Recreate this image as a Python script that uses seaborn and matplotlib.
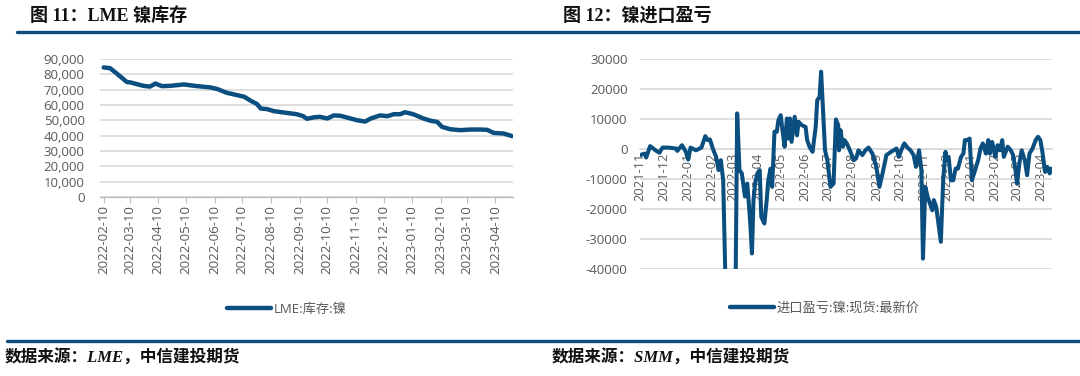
import matplotlib
matplotlib.use('Agg')
import matplotlib.pyplot as plt
import matplotlib.dates as mdates
from matplotlib.lines import Line2D
from matplotlib.ticker import FuncFormatter, MultipleLocator
import seaborn as sns
import pandas as pd

# ---------------- data ----------------
lme_dates = ['2022-02-10', '2022-02-17', '2022-02-24', '2022-03-07', '2022-03-11',
             '2022-03-25', '2022-04-01', '2022-04-07', '2022-04-14', '2022-04-23',
             '2022-05-08', '2022-05-22', '2022-06-05', '2022-06-13', '2022-06-23',
             '2022-07-04', '2022-07-12', '2022-07-19', '2022-07-26', '2022-07-30',
             '2022-08-06', '2022-08-13', '2022-08-24', '2022-09-07', '2022-09-14',
             '2022-09-18', '2022-09-25', '2022-10-02', '2022-10-10', '2022-10-17',
             '2022-10-24', '2022-10-31', '2022-11-11', '2022-11-20', '2022-11-26',
             '2022-12-06', '2022-12-14', '2022-12-21', '2022-12-28', '2023-01-02',
             '2023-01-11', '2023-01-22', '2023-01-30', '2023-02-06', '2023-02-11',
             '2023-02-20', '2023-03-03', '2023-03-14', '2023-03-25', '2023-04-01',
             '2023-04-08', '2023-04-19', '2023-04-28']
lme_stock = [84500, 84000, 80600, 75000, 74700,
             72500, 72000, 74000, 72300, 72500,
             73400, 72300, 71500, 70400, 68000,
             66500, 65400, 62800, 60600, 57700,
             57300, 56000, 55100, 54000, 52700,
             51000, 51900, 52300, 51200, 53200,
             53000, 51900, 50100, 49200, 51200,
             53200, 52700, 54000, 54000, 55300,
             54000, 51200, 49700, 49000, 45800,
             44200, 43600, 44000, 44000, 43800,
             41800, 41400, 39700]

imp_dates = ['2021-11-01', '2021-11-07', '2021-11-09', '2021-11-14', '2021-11-22',
             '2021-11-26', '2021-11-30', '2021-12-08', '2021-12-17', '2021-12-19',
             '2021-12-25', '2021-12-30', '2022-01-02', '2022-01-05', '2022-01-12',
             '2022-01-19', '2022-01-24', '2022-01-27', '2022-01-30', '2022-02-03',
             '2022-02-07', '2022-02-10', '2022-02-13', '2022-02-16', '2022-02-19',
             '2022-02-21', '2022-03-01', '2022-03-04', '2022-03-06', '2022-03-09',
             '2022-03-12', '2022-03-15', '2022-03-16', '2022-03-19', '2022-03-21',
             '2022-03-23', '2022-03-25', '2022-03-27', '2022-03-29', '2022-04-01',
             '2022-04-04', '2022-04-06', '2022-04-10', '2022-04-13', '2022-04-15',
             '2022-04-18', '2022-04-20', '2022-04-23', '2022-04-26', '2022-04-28',
             '2022-05-01', '2022-05-03', '2022-05-06', '2022-05-09', '2022-05-11',
             '2022-05-13', '2022-05-15', '2022-05-19', '2022-05-22', '2022-05-24',
             '2022-05-28', '2022-06-02', '2022-06-04', '2022-06-07', '2022-06-11',
             '2022-06-15', '2022-06-17', '2022-06-20', '2022-06-22', '2022-06-27',
             '2022-06-30', '2022-07-04', '2022-07-08', '2022-07-11', '2022-07-14',
             '2022-07-15', '2022-07-17', '2022-07-20', '2022-07-22', '2022-07-25',
             '2022-07-29', '2022-08-03', '2022-08-06', '2022-08-09', '2022-08-14',
             '2022-08-18', '2022-08-22', '2022-08-27', '2022-09-01', '2022-09-05',
             '2022-09-09', '2022-09-14', '2022-09-20', '2022-09-27', '2022-09-30',
             '2022-10-03', '2022-10-07', '2022-10-11', '2022-10-15', '2022-10-19',
             '2022-10-22', '2022-10-26', '2022-10-29', '2022-10-31', '2022-11-03',
             '2022-11-06', '2022-11-09', '2022-11-12', '2022-11-14', '2022-11-17',
             '2022-11-23', '2022-11-26', '2022-11-29', '2022-11-30', '2022-12-03',
             '2022-12-06', '2022-12-09', '2022-12-12', '2022-12-15', '2022-12-19',
             '2022-12-22', '2022-12-24', '2022-12-27', '2022-12-30', '2023-01-02',
             '2023-01-06', '2023-01-10', '2023-01-13', '2023-01-16', '2023-01-20',
             '2023-01-23', '2023-01-25', '2023-01-28', '2023-02-01', '2023-02-04',
             '2023-02-07', '2023-02-10', '2023-02-12', '2023-02-17', '2023-02-21',
             '2023-02-24', '2023-02-27', '2023-03-01', '2023-03-04', '2023-03-07',
             '2023-03-11', '2023-03-14', '2023-03-17', '2023-03-21', '2023-03-25',
             '2023-03-28', '2023-03-31', '2023-04-03', '2023-04-06', '2023-04-09',
             '2023-04-12', '2023-04-14']
imp_profit = [-2200, -1700, -3000, 800, -800,
              -1400, 300, 300, 0, -800,
              1100, -1100, -3700, 300, -600,
              300, 4100, 2800, 3000, -300,
              -2800, -7200, -3900, -10600, -45000,
              -55000, -55000, -45000, 11700, -7200,
              -8300, -13900, -16000, -11700, -18300,
              -25600, -35000, -17200, -11700, -8300,
              -7200, -22800, -25000, -17200, -10600,
              -6700, -12800, 5600, 5600, 9400,
              11100, 6700, 600, 10000, 3300,
              10000, 2200, 10600, 4400, 8900,
              7800, 7200, 2800, 600, -1100,
              7200, 16100, 17200, 25600, -600,
              -3900, -12800, -11700, 9700, 7800,
              -600, 6100, 600, 2800, 1700,
              -600, -3900, -3300, -600, -2200,
              -600, 300, -1700, -6100, -12800,
              -8300, -2200, -1100, 0, -2800,
              -600, 1700, 300, -600, -2200,
              -6100, -600, -7200, -36700, -12800,
              -16100, -18300, -20600, -17200, -19400,
              -31100, -10600, -1100, -3900, -2800,
              -10600, -10600, -6700, -6700, -2800,
              -1700, 2800, 2800, 3300, -10600,
              -7200, -3900, 0, 1700, -1700,
              2800, -1700, 2200, -2800, 1100,
              -600, 2800, -2800, 600, -600,
              -2200, -7200, -11700, -5000, -600,
              -3900, -8900, -1700, 0, 2800,
              3900, 2800, -1700, -7800, -6100,
              -8300, -6700]

title_left = '图 11：LME 镍库存'
title_right = '图 12：镍进口盈亏'
legend_left = 'LME:库存:镍'
legend_right = '进口盈亏:镍:现货:最新价'
source_left = '数据来源：LME，中信建投期货'
source_right = '数据来源：SMM，中信建投期货'

# ---------------- style ----------------
sns.set_theme(style='white')
plt.rcParams['font.family'] = ['Open Sans', 'Noto Sans CJK SC', 'DejaVu Sans']
plt.rcParams['axes.unicode_minus'] = False

LINE = '#0b4f80'
RULE = '#0f4c7c'
GRID = '#d9d9d9'
TXT = '#595959'
W, H = 1080, 376

fig = plt.figure(figsize=(W / 100, H / 100), dpi=100)
fig.patch.set_facecolor('white')


def rect(l, r, t, b):
    return [l / W, 1 - b / H, (r - l) / W, (b - t) / H]


ax1 = fig.add_axes(rect(100, 513, 59, 197))
ax2 = fig.add_axes(rect(640, 1052, 58.5, 268.5))

df1 = pd.DataFrame({'date': pd.to_datetime(lme_dates), 'value': lme_stock})
df2 = pd.DataFrame({'date': pd.to_datetime(imp_dates), 'value': imp_profit})

sns.lineplot(data=df1, x='date', y='value', ax=ax1, color=LINE, lw=3.2,
             legend=False, zorder=3)
sns.lineplot(data=df2, x='date', y='value', ax=ax2, color=LINE, lw=2.9,
             legend=False, zorder=3)

for ax in (ax1, ax2):
    ax.set_xlabel('')
    ax.set_ylabel('')
    ax.set_facecolor('white')
    for s in ('left', 'top', 'right'):
        ax.spines[s].set_visible(False)
    ax.yaxis.grid(True, color=GRID, lw=1.2)
    ax.xaxis.grid(False)
    ax.set_axisbelow(True)

# left axes
ax1.set_xlim(pd.Timestamp('2022-02-06'), pd.Timestamp('2023-04-29'))
ax1.set_ylim(0, 90000)
ax1.yaxis.set_major_locator(MultipleLocator(10000))
ax1.yaxis.set_major_formatter(FuncFormatter(lambda v, p: f'{int(v):,}'))
ax1.xaxis.set_major_locator(mdates.MonthLocator(bymonthday=10))
ax1.xaxis.set_major_formatter(mdates.DateFormatter('%Y-%m-%d'))
ax1.spines['bottom'].set_color('#bfbfbf')
ax1.spines['bottom'].set_linewidth(1.0)
ax1.tick_params(axis='x', direction='out', length=4, width=0.8, color='#bfbfbf',
                labelsize=9.5, labelcolor=TXT, rotation=90, pad=2, bottom=True)
ax1.tick_params(axis='y', length=0, labelsize=9.5, labelcolor=TXT, pad=11)

# right axes
ax2.set_xlim(pd.Timestamp('2021-11-01'), pd.Timestamp('2023-04-15'))
ax2.set_ylim(-40000, 30000)
ax2.yaxis.set_major_locator(MultipleLocator(10000))
ax2.yaxis.set_major_formatter(FuncFormatter(lambda v, p: f'{int(v)}'))
ax2.xaxis.set_major_locator(mdates.MonthLocator(bymonthday=1))
ax2.xaxis.set_major_formatter(mdates.DateFormatter('%Y-%m'))
ax2.spines['bottom'].set_position(('data', 0))
ax2.spines['bottom'].set_color(GRID)
ax2.spines['bottom'].set_linewidth(1.2)
ax2.tick_params(axis='x', length=0, labelsize=9.3, labelcolor=TXT, rotation=90,
                pad=3, bottom=True)
ax2.tick_params(axis='y', length=0, labelsize=9.5, labelcolor=TXT, pad=9)
for lab in ax2.get_xticklabels():
    lab.set_zorder(1)

# legends
fig.legend(handles=[Line2D([], [], color=LINE, lw=3.2)], labels=[legend_left],
           loc='center', bbox_to_anchor=(287 / W, 1 - 309 / H), frameon=False,
           fontsize=9.5, handlelength=3.3, handletextpad=0.25, labelcolor=TXT)
fig.legend(handles=[Line2D([], [], color=LINE, lw=3.2)], labels=[legend_right],
           loc='center', bbox_to_anchor=(825 / W, 1 - 308 / H), frameon=False,
           fontsize=9.5, handlelength=3.3, handletextpad=0.25, labelcolor=TXT)

# titles
tfam = ['Liberation Serif', 'Noto Sans CJK SC']
fig.text(30 / W, 1 - 16 / H, title_left, fontsize=13, fontweight='bold',
         family=tfam, va='center', ha='left', color='#111111')
fig.text(563 / W, 1 - 16 / H, title_right, fontsize=13, fontweight='bold',
         family=tfam, va='center', ha='left', color='#111111')

# rules
fig.add_artist(Line2D([17 / W, 1.0], [1 - 31.5 / H] * 2, color=RULE, lw=2.4))
fig.add_artist(Line2D([7 / W, 1.0], [1 - 341 / H] * 2, color=RULE, lw=2.4))

# sources
fig.text(5 / W, 1 - 358 / H, source_left, fontsize=12, fontweight='bold',
         fontstyle='italic', family=tfam, va='center', ha='left', color='#111111')
fig.text(552 / W, 1 - 358 / H, source_right, fontsize=12, fontweight='bold',
         fontstyle='italic', family=tfam, va='center', ha='left', color='#111111')

fig.savefig('out.png', dpi=100, facecolor='white')
